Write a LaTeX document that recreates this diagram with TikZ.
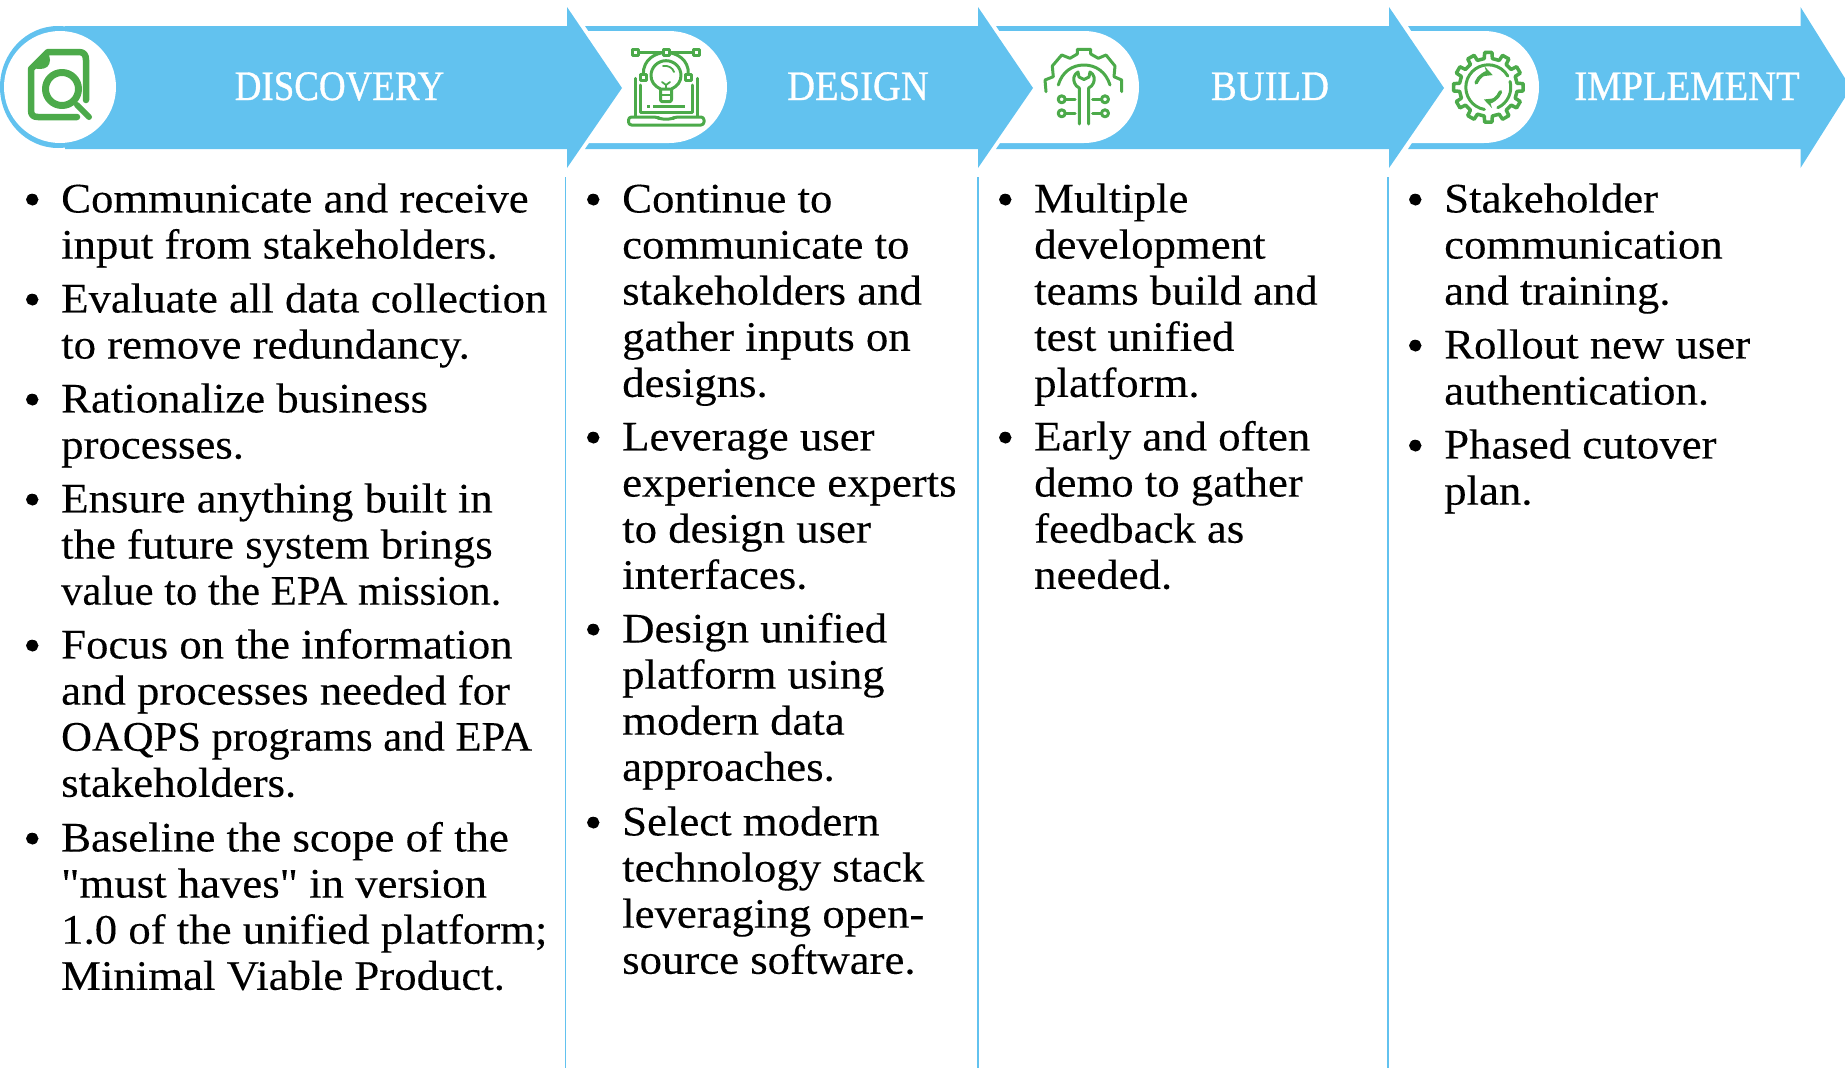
\documentclass[tikz,border=0pt]{standalone}
\usepackage{fontspec}
\newfontfamily\bodyfont[FakeStretch=1.066,FakeBold=0.2]{Liberation Serif}
\newfontfamily\bodytight[FakeStretch=1.015,FakeBold=0.2]{Liberation Serif}
\newfontfamily\headfont[FakeStretch=0.92,FakeBold=0.8]{Liberation Serif}
\newfontfamily\headnarrow[FakeStretch=0.88,FakeBold=0.8]{Liberation Serif}
\definecolor{skyband}{HTML}{62C2EF}
\definecolor{icongreen}{HTML}{4CAA4A}
\newcommand{\itm}{\strut\llap{\raisebox{-3pt}{\fontsize{48}{46}\selectfont\textbullet}\hskip 20pt}}
\begin{document}
\begin{tikzpicture}
[x=1pt,y=-1pt,line join=round,line cap=round,%
  band/.style={fill=skyband,draw=none},%
  pill/.style={fill=white,draw=none},%
  sep/.style={draw=skyband,line width=1.6pt,line cap=butt},%
  icon/.style={draw=icongreen,line width=3pt},%
  head/.style={text=white,inner sep=0pt,anchor=base,font=\fontsize{42}{46}\selectfont\headfont},%
  item/.style={anchor=north west,inner sep=0pt,align=left,font=\fontsize{42}{46.1}\selectfont\bodyfont}]
\useasboundingbox (0,0) rectangle (1845,1068);
\fill[band] (1408,26) -- (1800.5,26) -- (1800.5,7) -- (1851,88) -- (1800.5,168) -- (1800.5,149) -- (1408,149) -- (1449,88) -- cycle;
\fill[pill] (1411,31) -- (1484,31) .. controls (1515,31) and (1539,56) .. (1539,87) .. controls (1539,118) and (1515,143) .. (1484,143) -- (1411,143) -- cycle;
\fill[band] (996,26) -- (1389,26) -- (1389,7) -- (1444,88) -- (1389,168) -- (1389,149) -- (996,149) -- (1038,88) -- cycle;
\fill[pill] (999,31) -- (1084,31) .. controls (1115,31) and (1139,56) .. (1139,87) .. controls (1139,118) and (1115,143) .. (1084,143) -- (999,143) -- cycle;
\fill[band] (585,26) -- (978,26) -- (978,7) -- (1033,88) -- (978,168) -- (978,149) -- (585,149) -- (627,88) -- cycle;
\fill[pill] (588,31) -- (669,31) .. controls (700,31) and (727,56) .. (727,87) .. controls (727,118) and (700,143) .. (669,143) -- (588,143) -- cycle;
\fill[band] (65,26) -- (567,26) -- (567,7) -- (622,88) -- (567,168) -- (567,149) -- (65,149) -- cycle;
\fill[band] (58,87) ellipse (58 and 61);
\fill[pill] (60,87) ellipse (56 and 56);

\draw[sep] (565.5,177) -- (565.5,1068);
\draw[sep] (978,177) -- (978,1068);
\draw[sep] (1388,177) -- (1388,1068);

\node[head] (discovery) at (339.5,100) {\headnarrow DISCOVERY};
\node[head] (design) at (858,100) {DESIGN};
\node[head] (build) at (1270,100) {BUILD};
\node[head] (implement) at (1687,100) {IMPLEMENT};

\draw[icon,line width=6.5pt] (86,100) -- (86,60) .. controls (86,55) and (84,52) .. (79,52) -- (48,52) -- (31,69) -- (31,110) .. controls (31,115) and (33,117) .. (38,117) -- (77,117);
\fill[icongreen] (28,68) -- (48,49) -- (50,60) .. controls (50,66) and (46,69) .. (40,69) -- cycle;
\draw[icon,line width=7pt,fill=white] (62,89) circle (16.5);
\draw[icon,line width=6pt] (77,105) -- (89,117);

\draw[icon] (635,52.5) -- (696.7,52.5);
\draw[icon] (643.3,74) .. controls (643,60) and (655,52.5) .. (666,52.5) .. controls (677,52.5) and (689,60) .. (688.3,74);
\draw[icon,fill=white] (632,49.5) rectangle (638,55.5);
\draw[icon,fill=white] (663,49.5) rectangle (669,55.5);
\draw[icon,fill=white] (693.7,49.5) rectangle (699.7,55.5);
\draw[icon,fill=white] (640.3,74.3) rectangle (646.3,80.3);
\draw[icon,fill=white] (685.3,74.3) rectangle (691.3,80.3);
\draw[icon] (660.5,89) .. controls (654,86) and (651,81) .. (651,75.5) .. controls (651,67) and (658,60.7) .. (666,60.7) .. controls (674,60.7) and (681,67) .. (681,75.5) .. controls (681,81) and (678,86) .. (671.5,89) -- cycle;
\draw[icon,rounded corners=2pt] (660.5,89) -- (660.5,101.7) -- (671.5,101.7) -- (671.5,89);
\draw[icon,line width=1.8pt] (660.5,95) -- (671.5,95);
\draw[icon,line width=1.8pt] (662,82) -- (666,85) -- (670,82);
\draw[icon,line width=1.8pt] (666,85) -- (666,89);
\draw[icon,line width=1.8pt] (663,66) .. controls (668,65) and (673,68) .. (674,72);
\draw[icon] (635,78.3) -- (635,116);
\draw[icon] (697.7,78.3) -- (697.7,116);
\draw[icon] (640,85) -- (640,112.7) -- (692.7,112.7) -- (692.7,85);
\draw[icon,rounded corners=3pt] (628.5,117) -- (657,117) -- (660,119) -- (672,119) -- (675,117) -- (704,117) -- (704,125) -- (628.5,125) -- cycle;
\draw[icon,line cap=butt] (647,106) -- (650,106);
\draw[icon,line cap=butt] (653,106) -- (685,106);

\draw[icon] (1046,91.7) -- (1045,80) -- (1053.3,76.7) -- (1052.3,66) -- (1061.7,55) -- (1070,58.3) -- (1077.3,54) -- (1077.3,49.3) -- (1090.7,49.3) -- (1090.7,54) -- (1098.3,58.3) -- (1106,55) -- (1115,66) -- (1114,76.7) -- (1121.7,80) -- (1121.7,91.7);
\draw[icon] (1058.3,85) .. controls (1062,72) and (1072,65) .. (1084,65) .. controls (1096,65) and (1106,72) .. (1110,85);
\draw[icon] (1079.3,124) -- (1079.3,88) .. controls (1075,86) and (1073,81) .. (1074,77) .. controls (1074.5,75) and (1076,73) .. (1078,72) -- (1079,77) -- (1084,79.5) -- (1089,77) -- (1090,72) .. controls (1092,73) and (1093.5,75) .. (1094,77) .. controls (1095,81) and (1093,86) .. (1088.7,88) -- (1088.7,124);
\draw[icon] (1061.7,99.3) circle (3.5);
\draw[icon] (1061.7,113.3) circle (3.5);
\draw[icon] (1105,99.3) circle (3.5);
\draw[icon] (1105,113.3) circle (3.5);
\draw[icon] (1065.2,99.3) -- (1075,99.3);
\draw[icon] (1065.2,113.3) -- (1075,113.3);
\draw[icon] (1101.5,99.3) -- (1092.7,99.3);
\draw[icon] (1101.5,113.3) -- (1092.7,113.3);

\begin{scope}[shift={(1488.3,87.3)}]
\draw[icon,line width=3.5pt,line cap=butt] (-8:29) \foreach \a in {0,30,...,330} {-- (\a-8:29) -- (\a-6:35) -- (\a+6:35) -- (\a+8:29)} -- cycle;
\draw[icon] (100:22.5) arc (100:330:22.5);
\draw[icon] (-15:22.5) arc (-15:65:22.5);
\draw[icon,line width=3.5pt,->,>=stealth] (200:13) arc (200:290:13);
\draw[icon,line width=3.5pt,->,>=stealth] (20:13) arc (20:110:13);
\end{scope}

\node[item] (disc1) at (61,180) {\itm Communicate and receive\\input from stakeholders.};
\node[item] (disc2) at (61,280) {\itm Evaluate all data collection\\to remove redundancy.};
\node[item] (disc3) at (61,380) {\itm Rationalize business\\processes.};
\node[item] (disc4) at (61,480) {\itm Ensure anything built in\\the future system brings\\{\bodytight value to the EPA mission.}};
\node[item] (disc5) at (61,626) {\itm Focus on the information\\and processes needed for\\{\bodytight OAQPS programs and EPA}\\stakeholders.};
\node[item] (disc6) at (61,819) {\itm Baseline the scope of the\\"must haves" in version\\1.0 of the unified platform;\\Minimal Viable Product.};

\node[item] (des1) at (622,180) {\itm Continue to\\communicate to\\stakeholders and\\gather inputs on\\designs.};
\node[item] (des2) at (622,418) {\itm Leverage user\\experience experts\\to design user\\interfaces.};
\node[item] (des3) at (622,610) {\itm Design unified\\platform using\\modern data\\approaches.};
\node[item] (des4) at (622,803) {\itm Select modern\\technology stack\\leveraging open-\\source software.};

\node[item] (bld1) at (1034,180) {\itm Multiple\\development\\teams build and\\test unified\\platform.};
\node[item] (bld2) at (1034,418) {\itm Early and often\\demo to gather\\feedback as\\needed.};

\node[item] (imp1) at (1444,180) {\itm Stakeholder\\communication\\and training.};
\node[item] (imp2) at (1444,326) {\itm Rollout new user\\authentication.};
\node[item] (imp3) at (1444,426) {\itm Phased cutover\\plan.};
\end{tikzpicture}
\end{document}
